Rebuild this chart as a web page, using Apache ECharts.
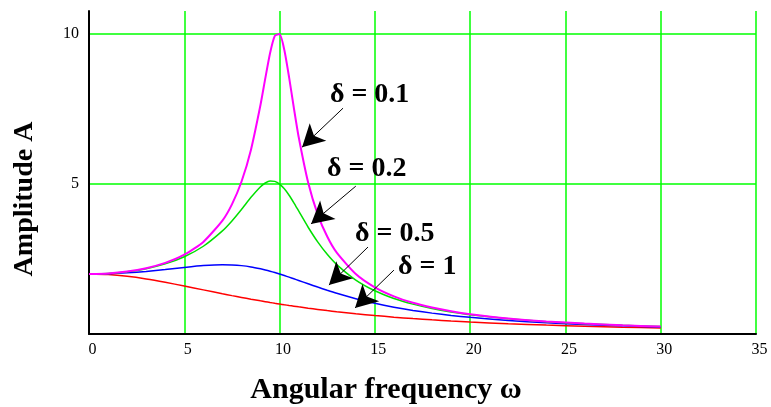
<!DOCTYPE html>
<html>
<head>
<meta charset="utf-8">
<script src="https://cdn.jsdelivr.net/npm/echarts@6/dist/echarts.min.js"></script>
<style>html,body{margin:0;padding:0;background:#fff}#c{width:771px;height:407px}</style>
</head>
<body>
<div id="c"></div>
<script>
// Angular frequency samples
const omega = [0,1,2,3,4,5,6,7,7.5,8,8.5,9,9.25,9.5,9.75,10,10.25,10.5,10.75,11,11.5,12,12.5,13,14,15,16,17,18,19,20,22,24,26,28,30];
// Amplitude A for each damping value
const ampD01 = [2.000,2.020,2.082,2.193,2.370,2.643,3.071,3.782,4.324,5.076,6.146,7.642,8.522,9.364,9.942,10.000,9.471,8.558,7.536,6.576,5.049,3.990,3.249,2.712,2.000,1.556,1.256,1.041,0.882,0.758,0.661,0.517,0.418,0.346,0.291,0.249];
const ampD02 = [2.000,2.019,2.076,2.179,2.339,2.577,2.926,3.438,3.770,4.152,4.557,4.913,5.035,5.098,5.088,5.000,4.841,4.626,4.373,4.102,3.560,3.071,2.657,2.315,1.800,1.442,1.186,0.996,0.850,0.736,0.644,0.508,0.412,0.342,0.289,0.247];
const ampD05 = [2.000,2.010,2.040,2.087,2.150,2.219,2.280,2.309,2.303,2.280,2.237,2.174,2.136,2.094,2.049,2.000,1.949,1.896,1.841,1.786,1.675,1.565,1.459,1.359,1.178,1.024,0.895,0.787,0.696,0.620,0.555,0.452,0.375,0.316,0.271,0.234];
const ampD1  = [2.000,1.980,1.923,1.835,1.724,1.600,1.471,1.342,1.280,1.220,1.161,1.105,1.078,1.051,1.025,1.000,0.975,0.951,0.928,0.905,0.861,0.820,0.780,0.743,0.676,0.615,0.562,0.514,0.472,0.434,0.400,0.342,0.296,0.258,0.226,0.200];

// Annotation labels and arrows (data coordinates)
const annLabels = ['δ = 0.1', 'δ = 0.2', 'δ = 0.5', 'δ = 1'];
const annTextPos = [[12.64, 7.97], [12.49, 5.50], [13.96, 3.35], [16.21, 2.25]];
const annArrowFrom = [[13.33, 7.53], [14.0, 4.93], [14.64, 2.90], [16.0, 2.13]];
const annArrowTo = [[11.18, 6.23], [11.65, 3.67], [12.59, 1.63], [13.96, 0.87]];

const xTicks = {min: 0, max: 35, interval: 5};
const yTicks = {min: 0, max: 10.77, interval: 5};

function pairs(ys) { return omega.map((x, i) => [x, ys[i]]); }

const serif = '"Liberation Serif", "Times New Roman", serif';
const chart = echarts.init(document.getElementById('c'), null, {renderer: 'canvas'});

const lineSeries = (name, ys, color, w) => ({
  name, type: 'line', data: pairs(ys), showSymbol: false, smooth: 0.2,
  lineStyle: {color, width: w}, itemStyle: {color}, animation: false, clip: false
});

chart.setOption({
  animation: false,
  backgroundColor: '#ffffff',
  grid: {left: 89, top: 11, right: 15, bottom: 73, containLabel: false},
  xAxis: {
    type: 'value', min: xTicks.min, max: xTicks.max, interval: xTicks.interval,
    axisLine: {onZero: false, lineStyle: {color: '#000', width: 2}},
    axisTick: {show: false},
    axisLabel: {color: '#000', fontFamily: serif, fontSize: 16, margin: 8, padding: [0, 0, 0, 7]},
    splitLine: {show: true, showMinLine: false, lineStyle: {color: '#00ff00', width: 1.5}}
  },
  yAxis: {
    type: 'value', min: yTicks.min, max: yTicks.max, interval: yTicks.interval,
    axisLine: {show: true, onZero: false, lineStyle: {color: '#000', width: 2}},
    axisTick: {show: false},
    axisLabel: {color: '#000', fontFamily: serif, fontSize: 16, margin: 10, padding: [5, 0, 0, 0],
      showMinLabel: false, showMaxLabel: false,
      formatter: v => (v === 0 || v % 5 !== 0) ? '' : String(v)},
    splitLine: {show: true, showMinLine: false, showMaxLine: false, lineStyle: {color: '#00ff00', width: 1.5}}
  },
  series: [
    lineSeries('δ = 1', ampD1, '#ff0000', 1.5),
    lineSeries('δ = 0.5', ampD05, '#0000ff', 1.5),
    lineSeries('δ = 0.2', ampD02, '#00e000', 1.5),
    lineSeries('δ = 0.1', ampD01, '#ff00ff', 2),
    {
      type: 'line', data: [], silent: true, animation: false,
      markLine: {
        silent: true, animation: false,
        symbol: ['none', 'arrow'], symbolSize: [18, 22],
        lineStyle: {color: '#000', width: 1, type: 'solid'},
        label: {show: false},
        data: annArrowFrom.map((p, i) => [{coord: p}, {coord: annArrowTo[i]}])
      },
      markPoint: {
        silent: true, animation: false, symbol: 'circle', symbolSize: 0,
        label: {show: true, position: 'right', distance: 0, color: '#000',
          fontFamily: serif, fontWeight: 'bold', fontSize: 28,
          formatter: p => p.name},
        data: annLabels.map((t, i) => ({name: t, coord: annTextPos[i]}))
      }
    }
  ],
  graphic: [
    {type: 'text', position: [25, 199], rotation: Math.PI / 2,
      style: {text: 'Amplitude A', font: 'bold 28px ' + serif, fill: '#000',
        textAlign: 'center', textVerticalAlign: 'middle'}},
    {type: 'text', position: [386, 390],
      style: {text: 'Angular frequency ω', font: 'bold 30px ' + serif, fill: '#000',
        textAlign: 'center', textVerticalAlign: 'middle'}}
  ]
});
</script>
</body>
</html>
